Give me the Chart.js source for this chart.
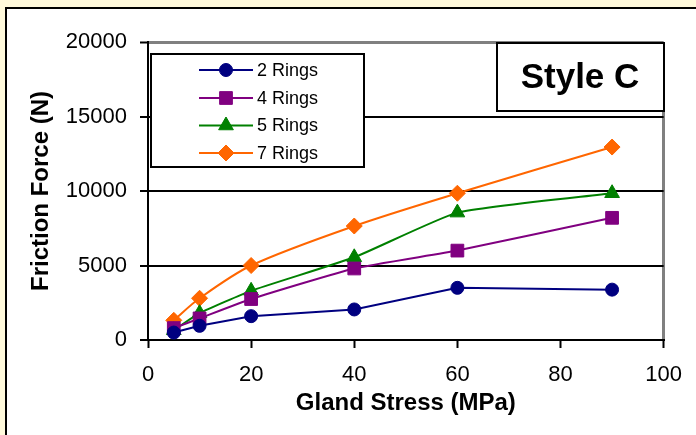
<!DOCTYPE html>
<html>
<head>
<meta charset="utf-8">
<script src="https://cdn.jsdelivr.net/npm/chart.js@4.4.0/dist/chart.umd.min.js"></script>
<style>
  html, body { margin: 0; padding: 0; background: #fff9db; }
  #wrap { width: 696px; height: 435px; }
</style>
</head>
<body>
<div id="wrap"><canvas id="frictionChart" width="696" height="435"></canvas></div>
<script>
// values
const stress = [5, 10, 20, 40, 60, 90];
const rings2 = [500, 950, 1600, 2050, 3500, 3380];
const rings4 = [800, 1450, 2750, 4800, 6000, 8200];
const rings5 = [650, 1800, 3300, 5550, 8550, 9850];
const rings7 = [1320, 2800, 5000, 7650, 9850, 12950];
const seriesNames = ["2 Rings", "4 Rings", "5 Rings", "7 Rings"];
const yTicks = [0, 5000, 10000, 15000, 20000];
const xTicks = [0, 20, 40, 60, 80, 100];

const FONT = "'Liberation Sans', Arial, sans-serif";

function pts(ys) {
  return stress.map(function (x, i) { return { x: x, y: ys[i] }; });
}

// yellow page with the white framed panel
const framePlugin = {
  id: "frame",
  beforeDraw: function (chart) {
    const ctx = chart.ctx;
    ctx.save();
    ctx.fillStyle = "#fff9db";
    ctx.fillRect(0, 0, chart.width, chart.height);
    ctx.fillStyle = "#ffffff";
    ctx.fillRect(6, 8, chart.width, chart.height);
    ctx.strokeStyle = "#000000";
    ctx.lineWidth = 2;
    ctx.strokeRect(6, 8, chart.width + 10, chart.height + 10);
    ctx.restore();
  }
};

// legend box and the "Style C" label box
const boxesPlugin = {
  id: "boxes",
  afterDraw: function (chart) {
    const ctx = chart.ctx;
    ctx.save();
    ctx.fillStyle = "#ffffff";
    ctx.fillRect(151, 54, 213, 113);
    ctx.strokeStyle = "#000000";
    ctx.lineWidth = 2;
    ctx.strokeRect(151, 54, 213, 113);

    const rows = [70, 98, 125.5, 153];
    chart.data.datasets.forEach(function (ds, i) {
      const y = rows[i];
      ctx.strokeStyle = ds.borderColor;
      ctx.lineWidth = 2;
      ctx.beginPath();
      ctx.moveTo(199, y);
      ctx.lineTo(253, y);
      ctx.stroke();
      ctx.fillStyle = ds.backgroundColor;
      ctx.strokeStyle = ds.borderColor;
      ctx.lineWidth = 1;
      Chart.helpers.drawPoint(ctx, { pointStyle: ds.pointStyle, radius: ds.pointRadius, borderWidth: 1 }, 226, y);
      ctx.fillStyle = "#000000";
      ctx.font = "18px " + FONT;
      ctx.textAlign = "left";
      ctx.textBaseline = "middle";
      ctx.fillText(ds.label, 257, y + 1);
    });

    ctx.fillStyle = "#ffffff";
    ctx.fillRect(497, 43, 167, 68);
    ctx.strokeStyle = "#000000";
    ctx.lineWidth = 2;
    ctx.strokeRect(497, 43, 167, 68);
    ctx.fillStyle = "#000000";
    ctx.font = "bold 35px " + FONT;
    ctx.textAlign = "center";
    ctx.textBaseline = "middle";
    ctx.fillText("Style C", 580, 78);
    ctx.restore();
  }
};

function series(label, ys, color, style, radius, tension) {
  return {
    label: label,
    data: pts(ys),
    borderColor: color,
    backgroundColor: color,
    borderWidth: 2,
    pointStyle: style,
    pointRadius: radius,
    pointHoverRadius: radius,
    pointBorderWidth: 1,
    tension: tension
  };
}

function plainNumber(v) { return String(v); }

new Chart(document.getElementById("frictionChart"), {
  type: "line",
  data: {
    datasets: [
      series(seriesNames[0], rings2, "#000080", "circle", 6.5, 0),
      series(seriesNames[1], rings4, "#800080", "rect", 9, 0.15),
      series(seriesNames[2], rings5, "#008000", "triangle", 8.5, 0.15),
      series(seriesNames[3], rings7, "#ff6600", "rectRot", 8, 0.3)
    ]
  },
  options: {
    responsive: false,
    animation: false,
    devicePixelRatio: 1,
    layout: { padding: { left: 0, top: 42, right: 32, bottom: 0 } },
    plugins: {
      legend: { display: false },
      title: { display: false },
      tooltip: { enabled: false }
    },
    scales: {
      x: {
        type: "linear",
        min: 0,
        max: 100,
        afterBuildTicks: function (scale) {
          scale.ticks = xTicks.map(function (v) { return { value: v }; });
        },
        afterFit: function (scale) { scale.height = 95; },
        grid: {
          color: function (c) { return c.tick && c.tick.value === 100 ? "#808080" : "rgba(0,0,0,0)"; },
          lineWidth: 3,
          drawTicks: true,
          tickLength: 8,
          tickColor: "#000000",
          tickWidth: 2
        },
        border: { color: "#000000", width: 2 },
        ticks: {
          color: "#000000",
          font: { family: FONT, size: 22 },
          padding: 14,
          maxRotation: 0,
          callback: plainNumber
        },
        title: {
          display: true,
          text: "Gland Stress (MPa)",
          color: "#000000",
          font: { family: FONT, size: 24, weight: "bold" },
          padding: { top: 0, bottom: 17 }
        }
      },
      y: {
        type: "linear",
        min: 0,
        max: 20000,
        afterBuildTicks: function (scale) {
          scale.ticks = yTicks.map(function (v) { return { value: v }; });
        },
        afterFit: function (scale) { scale.width = 148; },
        grid: {
          color: function (c) {
            if (!c.tick) return "#000000";
            if (c.tick.value === 20000) return "#808080";
            if (c.tick.value === 0) return "rgba(0,0,0,0)";
            return "#000000";
          },
          lineWidth: function (c) { return c.tick && c.tick.value === 20000 ? 3 : 2; },
          drawTicks: true,
          tickLength: 8,
          tickColor: "#000000",
          tickWidth: 2
        },
        border: { color: "#000000", width: 2 },
        ticks: {
          color: "#000000",
          font: { family: FONT, size: 22 },
          padding: 13,
          callback: plainNumber
        },
        title: {
          display: true,
          text: "Friction Force (N)",
          color: "#000000",
          font: { family: FONT, size: 24, weight: "bold" },
          padding: { top: 27, bottom: 0 }
        }
      }
    }
  },
  plugins: [framePlugin, boxesPlugin]
});
</script>
</body>
</html>
